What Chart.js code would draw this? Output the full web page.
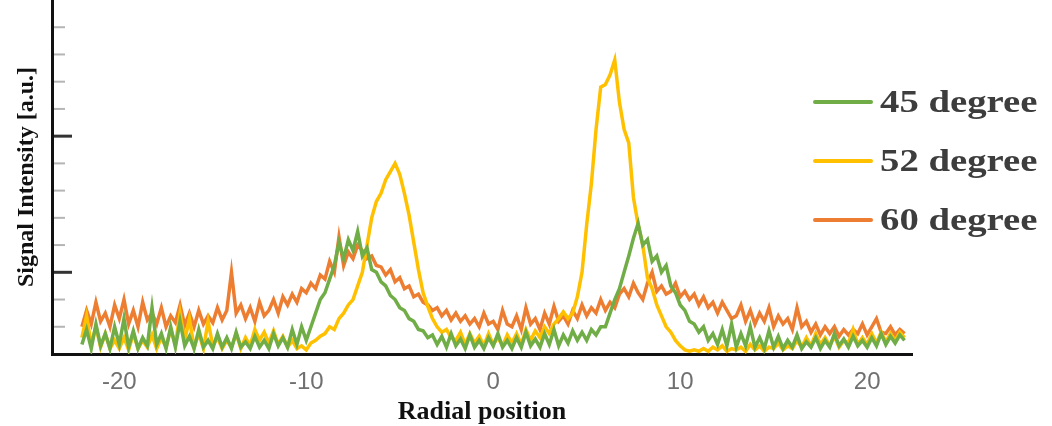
<!DOCTYPE html>
<html>
<head>
<meta charset="utf-8">
<script src="https://cdn.jsdelivr.net/npm/chart.js@4.4.1/dist/chart.umd.min.js"></script>
<style>
  body { margin: 0; background: #fff; }
  #wrap { position: relative; width: 1052px; height: 426px; }
  #legend { position: absolute; left: 813px; top: 0; }
  .item { position: absolute; left: 0; height: 40px; display: flex; align-items: center; white-space: nowrap; }
  .swatch { width: 60px; height: 4px; border-radius: 2px; }
  .label {
    margin-left: 7px; font: bold 31px 'Liberation Serif', 'Times New Roman', serif; color: #3d3d3d;
    transform: scaleX(1.25); transform-origin: left center;
  }
</style>
</head>
<body>
<div id="wrap">
  <canvas id="profileChart" width="1052" height="426"></canvas>
  <div id="legend"></div>
</div>
<script>
// posiciones radiales (paso 0.25)
const radialPosition = [
  -22, -21.75, -21.5, -21.25,
  -21, -20.75, -20.5, -20.25,
  -20, -19.75, -19.5, -19.25,
  -19, -18.75, -18.5, -18.25,
  -18, -17.75, -17.5, -17.25,
  -17, -16.75, -16.5, -16.25,
  -16, -15.75, -15.5, -15.25,
  -15, -14.75, -14.5, -14.25,
  -14, -13.75, -13.5, -13.25,
  -13, -12.75, -12.5, -12.25,
  -12, -11.75, -11.5, -11.25,
  -11, -10.75, -10.5, -10.25,
  -10, -9.75, -9.5, -9.25,
  -9, -8.75, -8.5, -8.25,
  -8, -7.75, -7.5, -7.25,
  -7, -6.75, -6.5, -6.25,
  -6, -5.75, -5.5, -5.25,
  -5, -4.75, -4.5, -4.25,
  -4, -3.75, -3.5, -3.25,
  -3, -2.75, -2.5, -2.25,
  -2, -1.75, -1.5, -1.25,
  -1, -0.75, -0.5, -0.25,
  0, 0.25, 0.5, 0.75,
  1, 1.25, 1.5, 1.75,
  2, 2.25, 2.5, 2.75,
  3, 3.25, 3.5, 3.75,
  4, 4.25, 4.5, 4.75,
  5, 5.25, 5.5, 5.75,
  6, 6.25, 6.5, 6.75,
  7, 7.25, 7.5, 7.75,
  8, 8.25, 8.5, 8.75,
  9, 9.25, 9.5, 9.75,
  10, 10.25, 10.5, 10.75,
  11, 11.25, 11.5, 11.75,
  12, 12.25, 12.5, 12.75,
  13, 13.25, 13.5, 13.75,
  14, 14.25, 14.5, 14.75,
  15, 15.25, 15.5, 15.75,
  16, 16.25, 16.5, 16.75,
  17, 17.25, 17.5, 17.75,
  18, 18.25, 18.5, 18.75,
  19, 19.25, 19.5, 19.75,
  20, 20.25, 20.5, 20.75,
  21, 21.25, 21.5, 21.75,
  22
];

const deg45 = [
  0.47, 0.58, 0.44, 0.62,
  0.46, 0.55, 0.44, 0.60,
  0.47, 0.66, 0.45, 0.57,
  0.44, 0.52, 0.46, 0.74,
  0.47, 0.55, 0.44, 0.60,
  0.45, 0.64, 0.46, 0.53,
  0.44, 0.58, 0.45, 0.50,
  0.44, 0.55, 0.45, 0.52,
  0.44, 0.56, 0.45, 0.49,
  0.44, 0.53, 0.45, 0.50,
  0.44, 0.55, 0.46, 0.52,
  0.45, 0.58, 0.47, 0.60,
  0.50, 0.60, 0.70, 0.80,
  0.85, 0.95, 1.05, 1.22,
  1.10, 1.24, 1.16, 1.30,
  1.12, 1.18, 1.02, 1.00,
  0.93, 0.90, 0.83, 0.80,
  0.74, 0.72, 0.66, 0.64,
  0.58, 0.57, 0.52, 0.54,
  0.47, 0.53, 0.45, 0.55,
  0.46, 0.51, 0.44, 0.54,
  0.45, 0.50, 0.44, 0.52,
  0.46, 0.55, 0.45, 0.50,
  0.44, 0.52, 0.45, 0.56,
  0.46, 0.51, 0.45, 0.55,
  0.47, 0.58, 0.46, 0.54,
  0.48, 0.57, 0.50, 0.56,
  0.50, 0.58, 0.54, 0.60,
  0.60, 0.70, 0.80, 0.88,
  1.00, 1.12, 1.25, 1.36,
  1.20, 1.24, 1.08, 1.12,
  1.00, 1.05, 0.90, 0.85,
  0.76, 0.72, 0.64, 0.62,
  0.56, 0.60, 0.50, 0.55,
  0.47, 0.58, 0.46, 0.62,
  0.45, 0.55, 0.46, 0.60,
  0.45, 0.52, 0.44, 0.57,
  0.45, 0.53, 0.44, 0.50,
  0.45, 0.54, 0.44, 0.49,
  0.45, 0.52, 0.44, 0.50,
  0.45, 0.55, 0.46, 0.51,
  0.45, 0.53, 0.46, 0.50,
  0.45, 0.52, 0.46, 0.55,
  0.47, 0.53, 0.48, 0.54,
  0.50
];

const deg52 = [
  0.52, 0.68, 0.47, 0.60,
  0.45, 0.55, 0.44, 0.50,
  0.44, 0.52, 0.43, 0.55,
  0.44, 0.50, 0.45, 0.54,
  0.44, 0.52, 0.45, 0.58,
  0.47, 0.70, 0.50, 0.66,
  0.45, 0.55, 0.44, 0.64,
  0.46, 0.52, 0.44, 0.50,
  0.45, 0.55, 0.44, 0.52,
  0.46, 0.58, 0.50, 0.56,
  0.48, 0.57, 0.47, 0.53,
  0.45, 0.50, 0.44, 0.46,
  0.43, 0.48, 0.50, 0.53,
  0.55, 0.60, 0.58, 0.66,
  0.70, 0.76, 0.80, 0.90,
  1.00, 1.20, 1.40, 1.52,
  1.58, 1.68, 1.74, 1.80,
  1.72, 1.58, 1.42, 1.22,
  1.02, 0.85, 0.75, 0.66,
  0.60, 0.56, 0.58, 0.52,
  0.50, 0.56, 0.47, 0.55,
  0.48, 0.53, 0.46, 0.55,
  0.47, 0.52, 0.46, 0.54,
  0.48, 0.55, 0.47, 0.58,
  0.50, 0.57, 0.52, 0.60,
  0.55, 0.62, 0.66, 0.71,
  0.66, 0.70, 0.82, 1.00,
  1.35, 1.65, 2.05, 2.36,
  2.38, 2.45, 2.56, 2.25,
  2.05, 1.95, 1.55, 1.35,
  1.20, 0.96, 0.88, 0.76,
  0.68, 0.60, 0.56, 0.50,
  0.46, 0.43, 0.42, 0.43,
  0.42, 0.44, 0.42, 0.45,
  0.43, 0.46, 0.42, 0.44,
  0.43, 0.45, 0.42, 0.47,
  0.43, 0.46, 0.42, 0.45,
  0.44, 0.48, 0.43, 0.46,
  0.44, 0.50, 0.45, 0.52,
  0.46, 0.55, 0.47, 0.52,
  0.46, 0.53, 0.45, 0.50,
  0.48, 0.58, 0.47, 0.52,
  0.47, 0.55, 0.48, 0.56,
  0.49, 0.55, 0.50, 0.56,
  0.52
];

const deg60 = [
  0.60, 0.72, 0.62, 0.78,
  0.64, 0.70, 0.60, 0.76,
  0.66, 0.80, 0.62, 0.72,
  0.60, 0.78, 0.65, 0.70,
  0.62, 0.74, 0.60, 0.68,
  0.63, 0.76, 0.61, 0.70,
  0.60, 0.72, 0.62, 0.68,
  0.63, 0.74, 0.65, 0.72,
  1.00, 0.70, 0.76, 0.66,
  0.74, 0.64, 0.78, 0.68,
  0.72, 0.80, 0.70, 0.82,
  0.76, 0.84, 0.78, 0.88,
  0.85, 0.92, 0.88, 0.98,
  0.95, 1.08, 1.00, 1.26,
  1.05, 1.15, 1.10, 1.20,
  1.16, 1.10, 1.12, 1.05,
  1.04, 0.98, 1.02, 0.93,
  0.96, 0.88, 0.90, 0.82,
  0.84, 0.78, 0.76, 0.72,
  0.74, 0.68, 0.72, 0.65,
  0.70, 0.64, 0.68, 0.62,
  0.66, 0.60, 0.70, 0.62,
  0.64, 0.58, 0.72, 0.62,
  0.60, 0.68, 0.58, 0.74,
  0.62, 0.66, 0.58, 0.70,
  0.62, 0.75, 0.64, 0.68,
  0.62, 0.72, 0.66, 0.76,
  0.68, 0.74, 0.70, 0.80,
  0.72, 0.78, 0.74, 0.84,
  0.88, 0.82, 0.92, 0.85,
  0.80, 0.92, 1.00, 0.86,
  0.90, 0.84, 0.86, 0.92,
  0.82, 0.86, 0.80, 0.84,
  0.76, 0.82, 0.74, 0.78,
  0.70, 0.78, 0.72, 0.66,
  0.68, 0.76, 0.64, 0.72,
  0.62, 0.70, 0.64, 0.74,
  0.60, 0.68, 0.62, 0.66,
  0.58, 0.74, 0.60, 0.64,
  0.56, 0.62, 0.54, 0.60,
  0.55, 0.60, 0.53, 0.58,
  0.54, 0.58, 0.55, 0.62,
  0.54, 0.60, 0.66, 0.56,
  0.55, 0.60, 0.54, 0.58,
  0.55
];

const seriesLabels = ['45 degree', '52 degree', '60 degree'];
const seriesColors = ['#70AD47', '#FFC000', '#ED7D31'];
const xTickValues = [-20, -10, 0, 10, 20];
const majorTickValues = [1.0, 2.0];

const toPoints = vals => vals.map((v, i) => ({ x: radialPosition[i], y: v }));

const data = {
    datasets: [deg45, deg52, deg60].map((vals, i) => ({
        label: seriesLabels[i],
        data: toPoints(vals),
        borderColor: seriesColors[i],
        backgroundColor: seriesColors[i],
        borderWidth: 3.5,
        pointRadius: 0,
        tension: 0
    }))
};

// marcas del eje Y hacia dentro del area
const innerTicks = {
    id: 'innerTicks',
    afterDraw(chart) {
        const { ctx } = chart;
        const y = chart.scales.y;
        ctx.save();
        y.ticks.forEach(t => {
            if (t.value <= y.min + 1e-6 || t.value >= y.max - 1e-6) return;
            const major = majorTickValues.some(m => Math.abs(m - t.value) < 1e-6);
            const py = y.getPixelForValue(t.value);
            ctx.strokeStyle = major ? '#333' : '#b5b5b5';
            ctx.lineWidth = major ? 3 : 2;
            ctx.beginPath();
            ctx.moveTo(y.right + 2, py);
            ctx.lineTo(y.right + (major ? 20 : 13), py);
            ctx.stroke();
        });
        ctx.restore();
    }
};

const config = {
    type: 'line',
    data: data,
    options: {
        responsive: false,
        animation: false,
        layout: { padding: { top: 0, right: 140, bottom: 0, left: 0 } },
        plugins: {
            legend: { display: false },
            tooltip: { enabled: false }
        },
        scales: {
            x: {
                type: 'linear',
                min: -23.6,
                max: 22.4,
                afterBuildTicks: scale => { scale.ticks = xTickValues.map(v => ({ value: v })); },
                afterFit: scale => { scale.height = 72; },
                grid: { display: false, drawTicks: false },
                border: { display: true, color: '#111', width: 3 },
                ticks: {
                    padding: 14,
                    color: '#707070',
                    font: { family: "'Liberation Sans', Arial, sans-serif", size: 24 }
                },
                title: {
                    display: true,
                    text: 'Radial position',
                    color: '#111',
                    padding: { top: 0, bottom: -2 },
                    font: { family: "'Liberation Serif', 'Times New Roman', serif", size: 26, weight: 'bold' }
                }
            },
            y: {
                min: 0.4,
                max: 3.0,
                afterFit: scale => { scale.width = 52; },
                grid: { display: false, drawTicks: false },
                border: { display: true, color: '#111', width: 3 },
                ticks: { display: false, stepSize: 0.2 },
                title: {
                    display: true,
                    text: 'Signal Intensity [a.u.]',
                    color: '#111',
                    padding: { top: 12, bottom: 4 },
                    font: { family: "'Liberation Serif', 'Times New Roman', serif", size: 24, weight: 'bold' }
                }
            }
        }
    },
    plugins: [innerTicks]
};

window.onload = function() {
    const ctx = document.getElementById('profileChart').getContext('2d');
    new Chart(ctx, config);

    // leyenda a la derecha
    const legend = document.getElementById('legend');
    seriesLabels.forEach((name, i) => {
        const item = document.createElement('div');
        item.className = 'item';
        item.style.top = (82 + i * 59) + 'px';
        const sw = document.createElement('span');
        sw.className = 'swatch';
        sw.style.background = seriesColors[i];
        const txt = document.createElement('span');
        txt.className = 'label';
        txt.textContent = name;
        item.appendChild(sw);
        item.appendChild(txt);
        legend.appendChild(item);
    });
};
</script>
</body>
</html>
